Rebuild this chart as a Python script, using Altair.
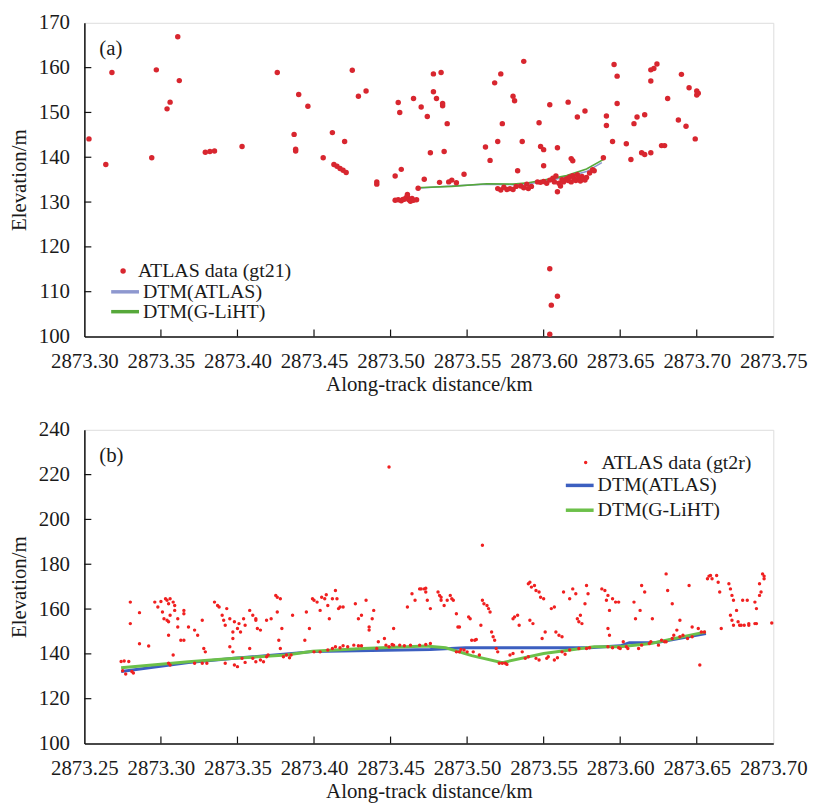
import altair as alt
import pandas as pd

FONT = "'Liberation Serif', 'Times New Roman', Times, 'DejaVu Serif', serif"
TXT = "#1a1a1a"

# ---------------- Panel (a) ----------------
a_label_pts = "ATLAS data (gt21)"
a_km = [2873.303, 2873.314, 2873.318, 2873.344, 2873.347, 2873.354, 2873.356, 2873.361, 2873.362,
        2873.379, 2873.382, 2873.385, 2873.403, 2873.426, 2873.437, 2873.438, 2873.438, 2873.440,
        2873.446, 2873.456, 2873.462, 2873.463, 2873.465, 2873.467, 2873.469, 2873.471, 2873.470,
        2873.475, 2873.479, 2873.484, 2873.491, 2873.491, 2873.503, 2873.505, 2873.506, 2873.507,
        2873.503, 2873.505, 2873.507, 2873.509, 2873.510, 2873.511, 2873.512, 2873.513, 2873.514,
        2873.515, 2873.517, 2873.508, 2873.511,
        2873.515, 2873.518, 2873.520, 2873.522, 2873.524, 2873.526, 2873.528, 2873.528, 2873.530,
        2873.532, 2873.533, 2873.534, 2873.534, 2873.535, 2873.537, 2873.538, 2873.540, 2873.543,
        2873.548, 2873.562, 2873.565, 2873.568, 2873.570, 2873.572, 2873.573,
        2873.570, 2873.572, 2873.574, 2873.576, 2873.578, 2873.580, 2873.582,
        2873.580, 2873.581, 2873.583, 2873.586, 2873.587,
        2873.585, 2873.587, 2873.589, 2873.590, 2873.592,
        2873.597, 2873.598, 2873.600, 2873.600, 2873.604,
        2873.596, 2873.598, 2873.600, 2873.602, 2873.604, 2873.606, 2873.607, 2873.608, 2873.610,
        2873.612, 2873.613, 2873.615, 2873.616, 2873.617, 2873.618, 2873.619, 2873.620, 2873.621,
        2873.622, 2873.623, 2873.624, 2873.625, 2873.626, 2873.627, 2873.628, 2873.630, 2873.632,
        2873.611,
        2873.609, 2873.609, 2873.604, 2873.605, 2873.609, 2873.604,
        2873.616, 2873.618, 2873.619, 2873.622, 2873.627, 2873.633, 2873.639, 2873.641, 2873.641,
        2873.645, 2873.646, 2873.648, 2873.648, 2873.654, 2873.657, 2873.659, 2873.661, 2873.664,
        2873.666, 2873.666, 2873.670, 2873.670, 2873.670, 2873.672, 2873.674, 2873.677, 2873.679,
        2873.681, 2873.688, 2873.690, 2873.693, 2873.695, 2873.699, 2873.700, 2873.700, 2873.701]
a_el = [144.1, 138.4, 158.9, 139.9, 159.5, 150.8, 152.3, 166.9, 157.1,
        141.1, 141.3, 141.4, 142.4, 158.9, 145.1, 141.8, 141.4, 154.0,
        151.4, 139.9, 145.5, 138.4, 138.0, 137.5, 137.1, 136.6, 143.5,
        159.4, 153.6, 154.8, 134.5, 134.0, 135.8, 152.2, 150.0, 137.3,
        130.4, 130.5, 130.3, 130.6, 130.9, 131.3, 130.5, 130.2, 130.8,
        130.4, 130.5, 130.6, 131.7,
        153.1, 133.1, 151.2, 135.1, 149.1, 141.0, 158.6, 154.6, 153.1,
        134.4, 158.9, 151.5, 152.0, 141.3, 147.5, 134.5, 134.9, 134.3,
        136.2, 142.3, 139.3, 156.6, 143.5, 158.6, 147.5,
        133.0, 132.7, 133.3, 132.8, 133.0, 132.8, 133.5,
        153.6, 152.6, 137.0, 143.5, 161.4,
        133.6, 133.2, 134.0, 133.0, 133.5,
        147.7, 142.4, 141.7, 138.1, 151.7,
        134.5, 134.4, 134.6, 134.2, 134.9, 135.3, 134.5, 135.8, 134.2,
        135.0, 134.5, 135.2, 134.8, 135.6, 134.5, 135.9, 135.2, 134.8,
        136.1, 135.4, 134.7, 135.7, 135.1, 134.9, 135.5, 136.5, 137.2,
        133.6,
        142.1, 132.3, 115.1, 107.0, 109.0, 100.5,
        152.3, 139.7, 139.2, 149.0, 150.3, 137.0, 139.9, 149.2, 147.1,
        143.5, 160.7, 158.1, 152.0, 143.0, 139.5, 147.5, 149.0, 141.0,
        140.6, 149.5, 141.0, 157.0, 159.5, 159.8, 160.8, 142.6, 142.6,
        153.1, 148.3, 158.5, 146.9, 155.5, 144.1, 154.8, 153.9, 154.3]

a_dtm_atlas_km = [2873.517, 2873.540, 2873.563, 2873.580, 2873.590, 2873.600, 2873.615, 2873.628, 2873.638]
a_dtm_atlas_el = [133.1, 133.6, 134.0, 133.9, 134.1, 134.6, 135.6, 136.8, 138.8]
a_dtm_gliht_km = [2873.517, 2873.540, 2873.563, 2873.580, 2873.590, 2873.600, 2873.615, 2873.628, 2873.640]
a_dtm_gliht_el = [133.2, 133.5, 134.1, 134.0, 134.3, 134.9, 135.9, 137.4, 139.7]

a_x_ticks = [2873.30, 2873.35, 2873.40, 2873.45, 2873.50, 2873.55, 2873.60, 2873.65, 2873.70, 2873.75]
a_y_ticks = [100, 110, 120, 130, 140, 150, 160, 170]

# ---------------- Panel (b) ----------------
b_label_pts = "ATLAS data (gt2r)"
b_km = [2873.274, 2873.276, 2873.277, 2873.275, 2873.279,
        2873.280, 2873.280, 2873.281, 2873.282,
        2873.286, 2873.286, 2873.292,
        2873.296, 2873.298, 2873.300, 2873.303, 2873.304, 2873.305, 2873.306, 2873.308, 2873.309,
        2873.302, 2873.304, 2873.305, 2873.301, 2873.306, 2873.309, 2873.305, 2873.308, 2873.305, 2873.306,
        2873.311, 2873.313, 2873.315, 2873.315, 2873.315, 2873.311,
        2873.318, 2873.322, 2873.324, 2873.327, 2873.328, 2873.329, 2873.322, 2873.327, 2873.330,
        2873.335, 2873.337, 2873.338, 2873.340, 2873.341, 2873.342, 2873.343, 2873.345, 2873.347,
        2873.347, 2873.348, 2873.350, 2873.351, 2873.352, 2873.354, 2873.355, 2873.345, 2873.347,
        2873.342, 2873.348, 2873.350, 2873.353, 2873.355,
        2873.358, 2873.360, 2873.362, 2873.362, 2873.363, 2873.365, 2873.358, 2873.360, 2873.362,
        2873.365, 2873.367, 2873.369, 2873.370, 2873.369, 2873.372,
        2873.375, 2873.376, 2873.378, 2873.376, 2873.379, 2873.377, 2873.378, 2873.380, 2873.382,
        2873.384, 2873.385, 2873.386,
        2873.394, 2873.395, 2873.397, 2873.399, 2873.400, 2873.402, 2873.404, 2873.405, 2873.407,
        2873.408, 2873.409, 2873.410, 2873.412, 2873.400, 2873.404, 2873.409,
        2873.414, 2873.415, 2873.416, 2873.417, 2873.419, 2873.412, 2873.414, 2873.417, 2873.419,
        2873.422, 2873.426, 2873.429, 2873.431, 2873.427, 2873.429, 2873.431,
        2873.436, 2873.436, 2873.438, 2873.439, 2873.434, 2873.441, 2873.442, 2873.446, 2873.447,
        2873.449, 2873.451, 2873.452, 2873.449, 2873.452,
        2873.456, 2873.459, 2873.463, 2873.461, 2873.464, 2873.466, 2873.469, 2873.470, 2873.472,
        2873.473, 2873.474, 2873.473, 2873.476, 2873.469, 2873.473, 2873.476,
        2873.481, 2873.482, 2873.483, 2873.483, 2873.485, 2873.487, 2873.489, 2873.490, 2873.491,
        2873.493, 2873.494, 2873.495, 2873.493, 2873.495, 2873.496, 2873.498, 2873.500,
        2873.501, 2873.502, 2873.503, 2873.505, 2873.506, 2873.504, 2873.508, 2873.509, 2873.510,
        2873.510, 2873.511, 2873.513, 2873.514, 2873.515, 2873.516, 2873.517, 2873.518, 2873.519,
        2873.520, 2873.521, 2873.523, 2873.525, 2873.526, 2873.528, 2873.530,
        2873.530, 2873.531, 2873.533, 2873.534, 2873.536, 2873.538, 2873.540, 2873.540, 2873.541,
        2873.542, 2873.544, 2873.545, 2873.547, 2873.541, 2873.543, 2873.545, 2873.547,
        2873.548, 2873.550, 2873.549, 2873.551, 2873.552, 2873.553, 2873.555, 2873.557, 2873.558,
        2873.560, 2873.562, 2873.563, 2873.557, 2873.559, 2873.562, 2873.564,
        2873.567, 2873.569, 2873.571, 2873.572, 2873.573, 2873.574, 2873.575, 2873.577, 2873.578,
        2873.579, 2873.567, 2873.573, 2873.578, 2873.580,
        2873.588, 2873.590, 2873.591, 2873.592, 2873.593, 2873.592, 2873.593, 2873.595, 2873.597,
        2873.599, 2873.592, 2873.595, 2873.599, 2873.600,
        2873.602, 2873.604, 2873.605, 2873.609, 2873.610, 2873.613, 2873.614, 2873.616, 2873.612,
        2873.614, 2873.619, 2873.620, 2873.621,
        2873.625, 2873.627, 2873.629, 2873.630, 2873.630, 2873.631, 2873.634, 2873.634, 2873.635,
        2873.637, 2873.639, 2873.641, 2873.639, 2873.645, 2873.647, 2873.644, 2873.647, 2873.652,
        2873.651, 2873.653, 2873.655,
        2873.657, 2873.658, 2873.659, 2873.660, 2873.663, 2873.664, 2873.665, 2873.666,
        2873.671, 2873.672, 2873.673, 2873.674, 2873.672, 2873.673, 2873.674, 2873.676, 2873.677,
        2873.678, 2873.679, 2873.680, 2873.681, 2873.684, 2873.684, 2873.683, 2873.688, 2873.689,
        2873.688, 2873.691, 2873.693, 2873.694, 2873.694, 2873.692, 2873.691, 2873.689, 2873.699]
b_el = [136.6, 136.8, 131.0, 132.5, 136.6,
        163.1, 153.5, 132.1, 131.5,
        158.4, 144.5, 143.5,
        163.1, 160.9, 163.4, 164.6, 163.9, 162.4, 164.6, 163.1, 161.6,
        155.7, 155.0, 154.3, 158.7, 157.2, 159.4, 148.3, 139.5, 135.8, 135.0,
        155.7, 146.1, 146.1, 159.4, 157.9, 152.0,
        152.0, 150.6, 148.3, 155.0, 142.4, 140.9, 135.8, 135.8, 135.8,
        163.1, 161.6, 160.9, 157.2, 155.0, 152.8, 160.2, 155.7, 149.8,
        146.9, 154.3, 151.3, 153.5, 149.8, 155.7, 152.8, 143.2, 140.9,
        135.8, 135.0, 134.3, 138.0, 136.2,
        159.4, 157.2, 155.7, 155.0, 151.3, 150.6, 142.4, 138.0, 136.5,
        137.3, 136.5, 138.7, 139.5, 155.0, 155.7,
        166.1, 165.3, 164.6, 158.7, 151.3, 146.1, 142.4, 138.7, 139.5,
        138.3, 139.5, 157.2,
        146.1, 158.7, 151.3, 164.6, 163.9, 163.1, 159.4, 165.3, 164.6,
        166.4, 161.6, 155.7, 164.6, 140.9, 140.9, 141.7,
        168.3, 164.6, 160.2, 160.9, 160.9, 142.4, 143.2, 142.7, 143.6,
        143.2, 143.9, 143.6, 143.6, 162.4, 155.7, 157.2,
        152.0, 150.6, 155.7, 159.4, 163.9, 142.4, 145.4, 146.9, 143.9,
        143.2, 144.2, 143.9, 223.4, 151.3,
        143.9, 143.6, 143.9, 160.9, 166.8, 163.9, 169.0, 169.0, 169.0,
        169.3, 163.9, 167.6, 160.2, 143.9, 144.2, 144.6,
        167.6, 166.1, 163.9, 165.3, 161.6, 163.9, 166.1, 164.6, 163.9,
        157.9, 152.0, 152.0, 140.9, 140.9, 142.0, 141.7, 140.9,
        156.5, 155.7, 146.1, 146.1, 146.4, 140.9, 139.5, 152.8, 188.5,
        163.9, 162.4, 161.6, 160.2, 158.7, 149.8, 147.6, 146.1, 142.4,
        140.9, 135.8, 135.8, 135.8, 135.3, 139.5, 140.2,
        155.7, 156.5, 157.2, 152.8, 140.9, 138.0, 138.7, 171.3, 172.0,
        169.8, 170.5, 168.3, 167.6, 155.0, 153.5, 138.0, 137.3,
        165.3, 164.6, 146.9, 149.8, 138.0, 138.7, 160.2, 160.9, 149.8,
        148.3, 147.6, 167.6, 137.3, 138.3, 140.9, 139.8,
        164.6, 169.0, 166.8, 155.7, 154.3, 157.2, 153.5, 162.4, 170.5,
        166.8, 141.7, 142.4, 142.4, 142.7,
        169.0, 168.3, 163.9, 166.1, 159.4, 151.3, 148.3, 164.6, 163.1,
        163.1, 143.2, 142.7, 142.7, 142.4,
        145.4, 143.2, 142.4, 163.1, 155.7, 159.4, 170.5, 167.6, 142.4,
        143.9, 144.6, 145.4, 155.7,
        143.9, 146.1, 145.4, 145.4, 175.7, 168.3, 162.4, 146.9, 148.3,
        150.6, 147.6, 148.3, 155.0, 170.5, 152.0, 146.9, 147.6, 135.0,
        151.3, 149.8, 149.8,
        173.5, 174.7, 175.0, 173.5, 175.0, 172.0, 167.6, 151.3,
        171.3, 169.0, 166.1, 163.9, 157.2, 155.0, 152.8, 159.4, 154.3,
        152.8, 152.8, 163.9, 152.8, 152.8, 153.5, 163.9, 163.1, 160.2,
        153.5, 171.3, 175.7, 174.7, 173.5, 167.6, 166.1, 153.5, 153.8]

b_dtm_atlas_km = [2873.274, 2873.318, 2873.348, 2873.399, 2873.476, 2873.499, 2873.580, 2873.600,
                  2873.606, 2873.624, 2873.656]
b_dtm_atlas_el = [132.1, 136.1, 138.0, 141.0, 142.0, 142.7, 142.7, 143.6, 145.0, 145.1, 149.1]
b_dtm_gliht_km = [2873.274, 2873.298, 2873.318, 2873.348, 2873.382, 2873.399, 2873.432, 2873.473,
                  2873.486, 2873.503, 2873.523, 2873.550, 2873.583, 2873.600, 2873.620, 2873.656]
b_dtm_gliht_el = [133.8, 135.3, 136.5, 138.0, 139.5, 141.2, 142.4, 143.5, 142.7, 139.2, 136.1,
                  140.2, 143.2, 143.2, 144.6, 149.8]

b_x_ticks = [2873.25, 2873.30, 2873.35, 2873.40, 2873.45, 2873.50, 2873.55, 2873.60, 2873.65, 2873.70]
b_y_ticks = [100, 120, 140, 160, 180, 200, 220, 240]

DTM_ATLAS = "DTM(ATLAS)"
DTM_GLIHT = "DTM(G-LiHT)"

W, H = 694, 316


def leg(x, y, off, sym, size, sw=None):
    kw = dict(title=None, orient="none", legendX=x, legendY=y, labelFont=FONT,
              labelFontSize=20, labelColor=TXT, symbolType=sym, symbolSize=size,
              labelOffset=off, padding=0)
    if sw is not None:
        kw["symbolStrokeWidth"] = sw
    return alt.Legend(**kw)


def panel(tag, pts_label, km, el, atl_km, atl_el, gl_km, gl_el, xt, yt,
          pt_color, pt_size, line_colors, line_w, pt_lg, pt_off, ln1_lg, ln2_lg):
    xs = alt.Scale(domain=[xt[0], xt[-1]], nice=False, zero=False)
    ys = alt.Scale(domain=[yt[0], yt[-1]], nice=False, zero=False)
    xax = alt.Axis(values=xt, format=".2f", ticks=False, grid=False, labelFont=FONT,
                   labelFontSize=21, labelColor=TXT, labelPadding=14, labelFlush=False,
                   labelOverlap=False, domainColor="#111", domainWidth=1.5,
                   title="Along-track distance/km", titleFont=FONT, titleFontSize=21,
                   titleFontWeight="normal", titleColor=TXT, titlePadding=2)
    yax = alt.Axis(values=yt, format="d", ticks=False, grid=False, labelFont=FONT,
                   labelFontSize=21, labelColor=TXT, labelPadding=15, labelFlush=False,
                   labelOverlap=False, domainColor="#111", domainWidth=1.5,
                   title="Elevation/m", titleFont=FONT, titleFontSize=21,
                   titleFontWeight="normal", titleColor=TXT, titlePadding=9)

    pts = pd.DataFrame({"km": km, "el": el, "s": pts_label})
    l1 = pd.DataFrame({"km": atl_km, "el": atl_el, "s": DTM_ATLAS})
    l2 = pd.DataFrame({"km": gl_km, "el": gl_el, "s": DTM_GLIHT})

    p_layer = alt.Chart(pts).mark_point(filled=True, size=pt_size, opacity=1).encode(
        x=alt.X("km:Q", scale=xs, axis=xax),
        y=alt.Y("el:Q", scale=ys, axis=yax),
        fill=alt.Fill("s:N", scale=alt.Scale(domain=[pts_label], range=[pt_color]),
                      legend=leg(pt_lg[0], pt_lg[1], pt_off, "circle", pt_size)),
    )
    line1 = alt.Chart(l1).mark_line(strokeWidth=line_w).encode(
        x="km:Q", y="el:Q",
        stroke=alt.Stroke("s:N", scale=alt.Scale(domain=[DTM_ATLAS], range=[line_colors[0]]),
                          legend=leg(ln1_lg[0], ln1_lg[1], 2, "stroke", 784, 3.5)),
    )
    line2 = alt.Chart(l2).mark_line(strokeWidth=line_w).encode(
        x="km:Q", y="el:Q",
        color=alt.Color("s:N", scale=alt.Scale(domain=[DTM_GLIHT], range=[line_colors[1]]),
                        legend=leg(ln2_lg[0], ln2_lg[1], 2, "stroke", 784, 3.5)),
    )
    xt_df = pd.DataFrame({"t": xt[1:-1]})
    yt_df = pd.DataFrame({"t": yt[1:-1]})
    xticks = alt.Chart(xt_df).mark_rule(color="#111", strokeWidth=1.2).encode(
        x="t:Q", y=alt.value(H), y2=alt.value(H - 7))
    yticks = alt.Chart(yt_df).mark_rule(color="#111", strokeWidth=1.2).encode(
        y="t:Q", x=alt.value(0), x2=alt.value(7))
    lab = alt.Chart(pd.DataFrame({"t": [tag]})).mark_text(
        font=FONT, fontSize=21, color=TXT, align="left", baseline="middle").encode(
        text="t:N", x=alt.value(15), y=alt.value(26))
    return alt.layer(xticks, yticks, line1, line2, p_layer, lab).resolve_scale(
        color="independent", stroke="independent", fill="independent").resolve_legend(
        color="independent", stroke="independent", fill="independent").properties(width=W, height=H)


pa = panel("(a)", a_label_pts, a_km, a_el, a_dtm_atlas_km, a_dtm_atlas_el,
           a_dtm_gliht_km, a_dtm_gliht_el, a_x_ticks, a_y_ticks,
           "#d8262f", 30, ["#8e98cf", "#56a83a"], 1.6, (29, 240), 5, (25, 255), (25, 275))
pb = panel("(b)", b_label_pts, b_km, b_el, b_dtm_atlas_km, b_dtm_atlas_el,
           b_dtm_gliht_km, b_dtm_gliht_el, b_x_ticks, b_y_ticks,
           "#f02020", 12, ["#3c5fc0", "#6cc04a"], 3, (495, 23), 6, (483, 40), (483, 65))

chart = alt.vconcat(pa, pb, spacing=23).resolve_scale(
    x="independent", y="independent", color="independent", stroke="independent",
    fill="independent"
).resolve_legend(color="independent", stroke="independent", fill="independent").properties(
    padding={"left": 8, "top": 8, "right": 5, "bottom": 3}
).configure_view(stroke="#444", strokeWidth=1.5).configure(background="white")

chart.save("out.html", embed_options={"renderer": "svg", "actions": False})
